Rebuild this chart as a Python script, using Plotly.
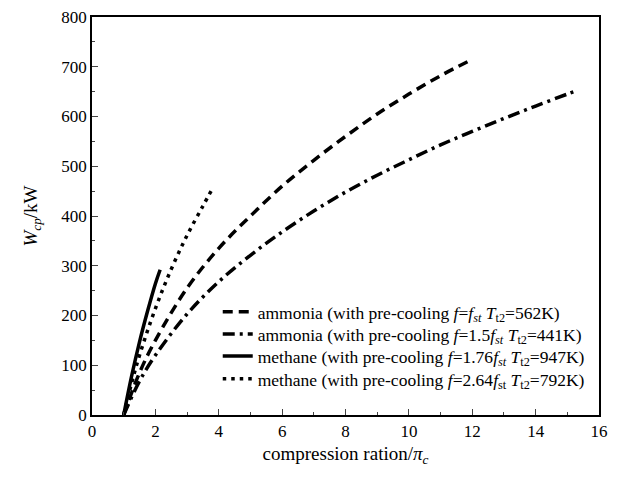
import plotly.graph_objects as go

# ammonia, f = f_st
amm1_x = [1.0, 1.5, 2, 3, 4, 5, 6, 7, 8, 9, 10, 11, 12]
amm1_y = [0, 85, 150, 255, 335, 400, 460, 512, 560, 605, 645, 682, 715]
# ammonia, f = 1.5 f_st
amm2_x = [1.0, 1.5, 2, 3, 4, 5, 6, 7, 8, 9, 10, 11, 12, 13, 14, 15, 15.3]
amm2_y = [0, 68, 120, 203, 268, 321, 368, 410, 448, 482, 513, 543, 570, 596, 621, 645, 652]
# methane, f = 1.76 f_st
met1_x = [1.0, 1.25, 1.5, 1.75, 2.0, 2.15]
met1_y = [0, 78, 147, 208, 264, 292]
# methane, f = 2.64 f_st
met2_x = [1.0, 1.25, 1.5, 2, 2.5, 3, 3.5, 3.8]
met2_y = [0, 64, 120, 214, 293, 361, 420, 455]

names = [
    "ammonia (with pre-cooling <i>f</i>=<i>f<sub>st</sub></i> <i>T</i><sub>t2</sub>=562K)",
    "ammonia (with pre-cooling <i>f</i>=1.5<i>f<sub>st</sub></i> <i>T</i><sub>t2</sub>=441K)",
    "methane (with pre-cooling <i>f</i>=1.76<i>f<sub>st</sub></i> <i>T</i><sub>t2</sub>=947K)",
    "methane (with pre-cooling <i>f</i>=2.64<i>f</i><sub>st</sub> <i>T</i><sub>t2</sub>=792K)",
]
dashes = ["10px,6px", "12px,5px,3px,5px", "solid", "3.5px,5px"]
series = [(amm1_x, amm1_y), (amm2_x, amm2_y), (met1_x, met1_y), (met2_x, met2_y)]
legend_ids = ["legend", "legend2", "legend3", "legend4"]
legend_rows = [0.2588, 0.2035, 0.1482, 0.0905]

font = "Liberation Serif"
fig = go.Figure()
for (xs, ys), nm, ds, lg in zip(series, names, dashes, legend_ids):
    fig.add_trace(go.Scatter(x=xs, y=ys, mode="lines", name=nm, legend=lg,
                             line=dict(color="black", width=3.5, dash=ds, shape="spline")))

leg_common = dict(x=0.248, xanchor="left", yanchor="middle",
                  bgcolor="rgba(0,0,0,0)", font=dict(size=17.5, family=font))
fig.update_layout(
    width=619, height=480,
    margin=dict(l=84, r=28, t=9, b=73, autoexpand=False),
    paper_bgcolor="white", plot_bgcolor="white",
    font=dict(family=font, size=17.5, color="black"),
    showlegend=True,
    legend=dict(y=legend_rows[0], **leg_common),
    legend2=dict(y=legend_rows[1], **leg_common),
    legend3=dict(y=legend_rows[2], **leg_common),
    legend4=dict(y=legend_rows[3], **leg_common),
    xaxis=dict(range=[0, 16], tick0=0, dtick=2, ticks="inside", ticklen=6, tickwidth=1.3,
               minor=dict(ticks="inside", ticklen=3, dtick=1, tickwidth=1.3),
               showline=True, linecolor="black", linewidth=1.5, mirror=True,
               showgrid=False, zeroline=False, ticklabeloverflow="allow", automargin=False,
               tickfont=dict(family=font, size=17),
               title=dict(text="compression ration/<i>π<sub>c</sub></i>", font=dict(family=font, size=19), standoff=7)),
    yaxis=dict(range=[0, 800], tick0=0, dtick=100, ticks="inside", ticklen=6, tickwidth=1.3,
               minor=dict(ticks="inside", ticklen=3, dtick=50, tickwidth=1.3),
               showline=True, linecolor="black", linewidth=1.5, mirror=True,
               showgrid=False, zeroline=False, ticklabeloverflow="allow", automargin=False,
               tickfont=dict(family=font, size=17),
               title=dict(text="<i>W<sub>cp</sub></i>/kW", font=dict(family=font, size=19), standoff=19)),
)
fig.write_html("out.html")
